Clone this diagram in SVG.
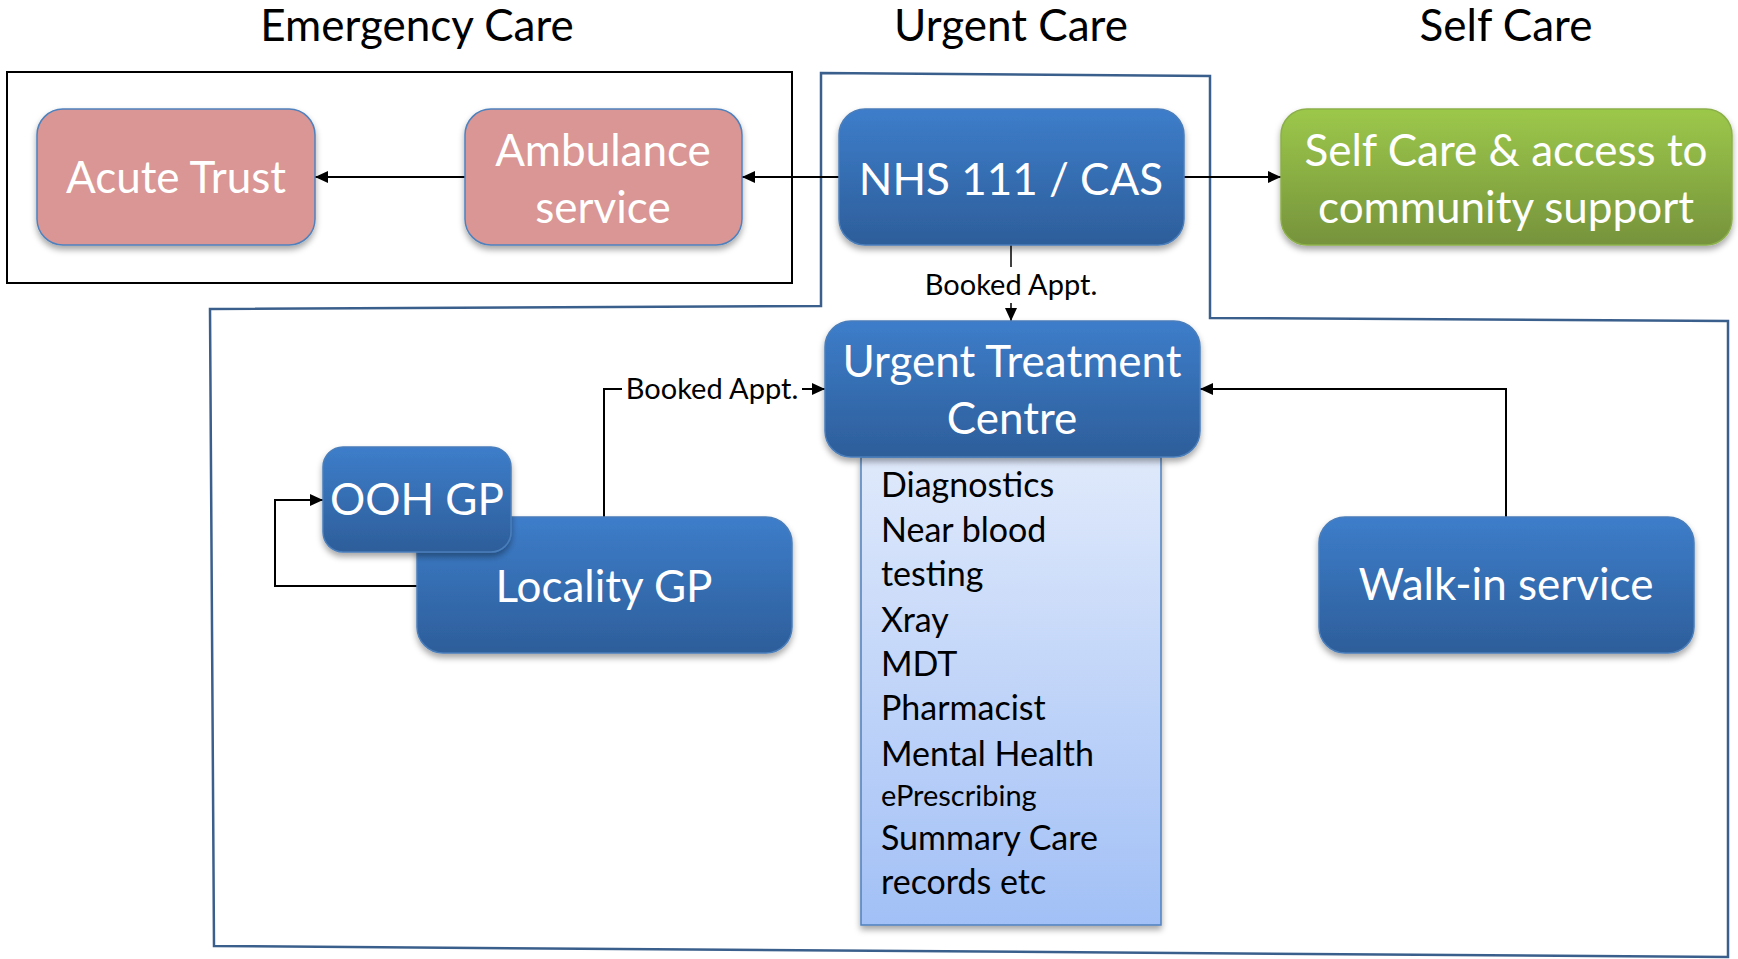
<svg xmlns="http://www.w3.org/2000/svg" width="1738" height="959" viewBox="0 0 1738 959">
<defs>
<style>
.title{font-family:Lato,"Liberation Sans",sans-serif;font-size:44px;fill:#000;text-anchor:middle}
.nt{font-family:Lato,"Liberation Sans",sans-serif;font-size:44px;fill:#fff;text-anchor:middle}
.li{font-family:Lato,"Liberation Sans",sans-serif;font-size:34px;fill:#000}
.lbl{font-family:Lato,"Liberation Sans",sans-serif;font-size:29px;fill:#000;text-anchor:middle}
.blue{fill:url(#gBlue);stroke:#4a7ebb;stroke-width:1.5;filter:url(#sh)}
.pink{fill:#d99694;stroke:#4f81bd;stroke-width:1.5;filter:url(#sh)}
.green{fill:url(#gGreen);stroke:#8cb04a;stroke-width:1.5;filter:url(#sh)}
.conn{fill:none;stroke:#000;stroke-width:2;marker-end:url(#ah)}
</style>
<linearGradient id="gBlue" x1="0" y1="0" x2="0" y2="1">
<stop offset="0" stop-color="#3d7dca"/>
<stop offset="1" stop-color="#2d5e9a"/>
</linearGradient>
<linearGradient id="gGreen" x1="0" y1="0" x2="0" y2="1">
<stop offset="0" stop-color="#9cc84a"/>
<stop offset="1" stop-color="#76933c"/>
</linearGradient>
<linearGradient id="gList" x1="0" y1="0" x2="0" y2="1">
<stop offset="0" stop-color="#dfe9fb"/>
<stop offset="1" stop-color="#a2c0f6"/>
</linearGradient>
<filter id="sh" x="-10%" y="-10%" width="120%" height="130%">
<feDropShadow dx="0" dy="4" stdDeviation="3" flood-color="#000" flood-opacity="0.35"/>
</filter>
<marker id="ah" markerUnits="userSpaceOnUse" markerWidth="14" markerHeight="12" refX="13" refY="6" orient="auto">
<path d="M0,0 L13,6 L0,12 z" fill="#000"/>
</marker>
</defs>
<rect width="1738" height="959" fill="#fff"/>

<g id="titles">
<text class="title" x="417" y="41">Emergency Care</text>
<text class="title" x="1011" y="41">Urgent Care</text>
<text class="title" x="1506" y="41">Self Care</text>
</g>

<g id="frames">
<rect x="7" y="72" width="785" height="211" fill="none" stroke="#000" stroke-width="2"/>
<polygon points="821,73 1210,76 1210,318 1728,321 1728,957 214,946 210,309 821,306" fill="none" stroke="#3b5f8c" stroke-width="2.5"/>
</g>

<g id="connectors">
<line class="conn" x1="839" y1="177" x2="742" y2="177"/>
<line class="conn" x1="465" y1="177" x2="315" y2="177"/>
<line class="conn" x1="1184" y1="177" x2="1281" y2="177"/>
<line class="conn" x1="1011" y1="245" x2="1011" y2="321" style="stroke-width:1.5"/>
<rect x="922" y="267" width="178" height="36" fill="#fff"/>
<text class="lbl" x="1011" y="295">Booked Appt.</text>
<path class="conn" d="M604,517 V389 H825"/>
<rect x="622" y="371" width="180" height="36" fill="#fff"/>
<text class="lbl" x="712" y="399">Booked Appt.</text>
<path class="conn" d="M1506,517 V389 H1200"/>
<path class="conn" d="M417,586 H275 V500 H323"/>
</g>

<g id="acute-trust">
<rect class="pink" x="37" y="109" width="278" height="136" rx="26"/>
<text class="nt" x="176" y="193">Acute Trust</text>
</g>
<g id="ambulance">
<rect class="pink" x="465" y="109" width="277" height="136" rx="26"/>
<text class="nt" x="603" y="166">Ambulance</text>
<text class="nt" x="603" y="223">service</text>
</g>
<g id="nhs111">
<rect class="blue" x="839" y="109" width="345" height="136" rx="26"/>
<text class="nt" x="1011" y="195">NHS 111 / CAS</text>
</g>
<g id="self-care">
<rect class="green" x="1281" y="109" width="451" height="136" rx="26"/>
<text class="nt" x="1506" y="166">Self Care &amp; access to</text>
<text class="nt" x="1506" y="223">community support</text>
</g>
<g id="services-list">
<rect x="861" y="457" width="300" height="468" fill="url(#gList)" stroke="#4f81bd" stroke-width="1.5" filter="url(#sh)"/>
<text class="li" x="881" y="497">Diagnostics</text>
<text class="li" x="881" y="542">Near blood</text>
<text class="li" x="881" y="586">testing</text>
<text class="li" x="881" y="632">Xray</text>
<text class="li" x="881" y="676">MDT</text>
<text class="li" x="881" y="720">Pharmacist</text>
<text class="li" x="881" y="766">Mental Health</text>
<text class="li" x="881" y="806" style="font-size:29px">ePrescribing</text>
<text class="li" x="881" y="850">Summary Care</text>
<text class="li" x="881" y="894">records etc</text>
</g>
<g id="utc">
<rect class="blue" x="825" y="321" width="375" height="136" rx="26"/>
<text class="nt" x="1012" y="377">Urgent Treatment</text>
<text class="nt" x="1012" y="434">Centre</text>
</g>
<g id="locality-gp">
<rect class="blue" x="417" y="517" width="375" height="136" rx="26"/>
<text class="nt" x="604" y="602">Locality GP</text>
</g>
<g id="ooh-gp">
<rect class="blue" x="323" y="447" width="188" height="105" rx="20"/>
<text class="nt" x="417" y="515">OOH GP</text>
</g>
<g id="walk-in">
<rect class="blue" x="1319" y="517" width="375" height="136" rx="26"/>
<text class="nt" x="1506" y="600">Walk-in service</text>
</g>
</svg>
